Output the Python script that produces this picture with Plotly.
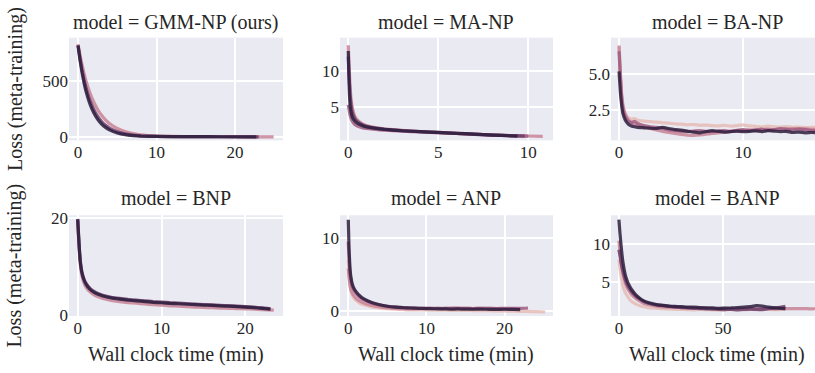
import plotly.graph_objects as go

# ---------------- data ----------------
# GMM-NP (ours)
GMM_T_A = [0, 0.25, 0.5, 0.75, 1, 1.5, 2, 2.5, 3, 3.5, 4, 5, 6, 7, 8, 10, 12, 15, 18, 21, 24.9]
GMM_L_A = [830, 735, 650, 575, 508, 400, 315, 248, 196, 155, 123, 78, 50, 33, 22, 11, 7, 5, 4.5, 4, 4]
GMM_T_B = [0, 0.25, 0.5, 0.75, 1, 1.5, 2, 2.5, 3, 3.5, 4, 5, 6, 7, 8, 10, 12, 15, 18, 23]
GMM_L_B = [822, 705, 605, 520, 448, 332, 248, 186, 140, 106, 82, 49, 30, 19, 13, 8, 6, 5, 4.5, 4]
GMM_T_C = [0, 0.25, 0.5, 0.75, 1, 1.5, 2, 2.5, 3, 3.5, 4, 5, 6, 7, 8, 10, 12, 15, 18, 22.7]
GMM_L_C = [818, 690, 580, 490, 415, 300, 218, 160, 118, 88, 66, 38, 23, 15, 10, 7, 5.5, 5, 4.5, 4]

# MA-NP
MA_T_A = [0, 0.05, 0.1, 0.15, 0.2, 0.3, 0.4, 0.6, 0.8, 1.0, 1.5, 2, 2.5, 3, 4, 5, 6, 7, 8, 9, 10, 10.8]
MA_L_A = [13.6, 10.5, 7.8, 6.2, 5.2, 4.1, 3.5, 2.95, 2.6, 2.4, 2.1, 1.92, 1.8, 1.7, 1.54, 1.42, 1.3, 1.18, 1.07, 0.98, 0.92, 0.88]
MA_T_B = [0, 0.05, 0.1, 0.2, 0.3, 0.4, 0.6, 0.8, 1.0, 1.5, 2, 3, 4, 5, 6, 7, 8, 9, 10]
MA_L_B = [5.3, 4.5, 3.8, 3.1, 2.7, 2.45, 2.2, 2.05, 1.97, 1.84, 1.74, 1.6, 1.48, 1.38, 1.27, 1.15, 1.05, 0.97, 0.9]
MA_T_C = [0, 0.05, 0.1, 0.15, 0.2, 0.3, 0.4, 0.6, 0.8, 1.0, 1.5, 2, 2.5, 3, 4, 5, 6, 7, 8, 9, 9.8]
MA_L_C = [12.0, 9.0, 6.8, 5.4, 4.5, 3.7, 3.2, 2.75, 2.45, 2.28, 2.02, 1.86, 1.75, 1.66, 1.52, 1.4, 1.28, 1.16, 1.05, 0.96, 0.9]
MA_T_D = [0, 0.03, 0.06, 0.1, 0.15, 0.2, 0.3, 0.5, 0.8, 1.0, 1.5, 2, 2.5, 3, 4, 5, 6, 7, 8, 9, 9.4]
MA_L_D = [12.8, 9.5, 7.0, 5.2, 4.3, 3.7, 3.2, 2.7, 2.35, 2.2, 2.0, 1.85, 1.75, 1.65, 1.52, 1.42, 1.3, 1.18, 1.05, 0.95, 0.9]

# BA-NP
BA_T = [0, 0.1, 0.2, 0.3, 0.5, 0.75, 1, 1.25, 1.5, 2, 2.5, 3, 3.5, 4, 4.5, 5, 5.5, 6, 6.5, 7,
        7.5, 8, 8.5, 9, 9.5, 10, 10.5, 11, 11.5, 12, 12.5, 13, 13.5, 14, 14.5, 15, 15.5, 16.5]
BA_L_A = [6.9, 5.0, 3.6, 2.8, 2.2, 1.95, 1.85, 1.9, 1.78, 1.72, 1.68, 1.65, 1.6, 1.58, 1.52, 1.5, 1.46, 1.48, 1.42, 1.44,
          1.4, 1.38, 1.42, 1.36, 1.4, 1.45, 1.38, 1.35, 1.3, 1.36, 1.32, 1.3, 1.34, 1.28, 1.3, 1.26, 1.28, 1.25]
BA_L_B = [7.0, 5.2, 3.7, 2.9, 2.2, 1.8, 1.6, 1.5, 1.42, 1.3, 1.2, 1.1, 1.0, 0.92, 0.85, 0.78, 0.74, 0.72, 0.75, 0.8,
          0.86, 0.9, 0.95, 1.0, 1.02, 1.05, 1.1, 1.08, 1.12, 1.15, 1.1, 1.18, 1.15, 1.2, 1.16, 1.18, 1.14, 1.15]
BA_L_C = [6.6, 4.8, 3.4, 2.6, 2.0, 1.7, 1.62, 1.7, 1.55, 1.4, 1.32, 1.28, 1.22, 1.1, 1.05, 1.0, 0.98, 1.02, 1.05, 1.0,
          0.98, 1.02, 1.05, 1.0, 1.08, 1.12, 1.05, 1.1, 1.15, 1.08, 1.12, 1.2, 1.15, 1.1, 1.18, 1.12, 1.06, 1.05]
BA_L_D = [5.2, 3.8, 2.9, 2.3, 1.8, 1.5, 1.38, 1.32, 1.28, 1.25, 1.22, 1.2, 1.28, 1.2, 1.12, 1.08, 1.02, 0.95, 0.9, 0.98,
          1.05, 1.0, 0.95, 0.98, 1.02, 0.98, 1.0, 1.04, 0.98, 1.05, 1.02, 0.98, 1.0, 0.92, 0.95, 0.9, 0.92, 0.9]

# BNP
BNP_T = [0, 0.1, 0.2, 0.3, 0.5, 0.75, 1, 1.5, 2, 2.5, 3, 4, 5, 6, 7, 8, 9, 10, 11, 12, 13, 14, 15,
         16, 17, 18, 19, 20, 21, 22, 23]
BNP_T_P = [0, 0.1, 0.2, 0.3, 0.5, 0.75, 1, 1.5, 2, 2.5, 3, 4, 5, 6, 7, 8, 9, 10, 11, 12, 13, 14, 15,
           16, 17, 18, 19, 20, 21, 22, 23.4]
BNP_L_A = [19.5, 16.0, 13.0, 10.6, 8.2, 6.7, 5.8, 4.8, 4.2, 3.8, 3.5, 3.1, 2.85, 2.65, 2.5, 2.35, 2.2, 2.1, 1.98,
           1.9, 1.8, 1.72, 1.65, 1.58, 1.5, 1.45, 1.4, 1.35, 1.3, 1.2, 1.1]
BNP_L_B = [19.9, 16.7, 13.7, 11.4, 9.0, 7.5, 6.6, 5.5, 4.9, 4.45, 4.15, 3.75, 3.5, 3.3, 3.15, 3.0, 2.85, 2.75,
           2.62, 2.55, 2.45, 2.35, 2.25, 2.18, 2.08, 2.0, 1.92, 1.82, 1.7, 1.55, 1.35]
BNP_L_C = [19.8, 16.5, 13.5, 11.2, 8.8, 7.3, 6.4, 5.3, 4.7, 4.3, 4.0, 3.6, 3.35, 3.15, 3.0, 2.85, 2.7, 2.6, 2.48,
           2.4, 2.3, 2.2, 2.12, 2.05, 1.95, 1.88, 1.8, 1.7, 1.6, 1.45, 1.3]

# ANP
ANP_T = [0, 0.1, 0.2, 0.3, 0.5, 0.75, 1, 1.5, 2, 3, 4, 5, 6, 7, 8, 9, 10, 11, 12, 13, 14, 15, 16,
         17, 18, 19, 20, 21, 22]
ANP_T_L = ANP_T + [23, 24, 25.2]
ANP_T_P = ANP_T + [23]
ANP_L_A = [7.0, 5.0, 3.8, 3.0, 2.2, 1.7, 1.4, 1.0, 0.8, 0.5, 0.35, 0.25, 0.2, 0.15, 0.1, 0.1, 0.08, 0.05, 0.05,
           0.03, 0.03, 0.02, 0.0, 0.0, -0.02, -0.05, -0.05, -0.08, -0.1, -0.12, -0.15, -0.2]
ANP_L_B = [5.8, 4.5, 3.6, 3.0, 2.4, 2.0, 1.7, 1.3, 1.05, 0.7, 0.5, 0.38, 0.3, 0.26, 0.22, 0.25, 0.3, 0.28, 0.32,
           0.3, 0.35, 0.3, 0.28, 0.32, 0.3, 0.25, 0.22, 0.2, 0.18]
ANP_L_C = [9.5, 7.0, 5.4, 4.4, 3.4, 2.8, 2.4, 1.85, 1.5, 1.05, 0.78, 0.6, 0.5, 0.42, 0.36, 0.32, 0.3, 0.3, 0.28,
           0.3, 0.32, 0.3, 0.28, 0.3, 0.3, 0.28, 0.3, 0.32, 0.3, 0.35]
ANP_L_D = [12.5, 8.5, 6.2, 4.9, 3.7, 3.0, 2.6, 2.0, 1.6, 1.1, 0.8, 0.6, 0.48, 0.4, 0.35, 0.3, 0.28, 0.25, 0.24,
           0.2, 0.22, 0.2, 0.18, 0.2, 0.17, 0.16, 0.18, 0.15, 0.14]

# BANP
BANP_T = [0, 0.5, 1, 1.5, 2, 3, 4, 5, 6, 8, 10, 12, 15, 18, 21, 24, 27, 30, 33, 36, 39, 42, 45, 48,
          51, 54, 57, 60, 63, 66, 69, 72, 75, 78, 80]
BANP_T_P = BANP_T + [84, 88, 92, 96]
BANP_L_A = [8.0, 6.8, 5.8, 5.0, 4.4, 3.6, 3.1, 2.7, 2.4, 2.05, 1.8, 1.65, 1.5, 1.45, 1.4, 1.35, 1.32, 1.3, 1.28,
            1.25, 1.3, 1.28, 1.25, 1.22, 1.25, 1.3, 1.28, 1.25, 1.3, 1.28, 1.32, 1.3, 1.28, 1.3, 1.32]
BANP_L_B = [10.5, 9.0, 7.8, 6.8, 6.0, 4.9, 4.2, 3.7, 3.3, 2.8, 2.4, 2.1, 1.9, 1.75, 1.65, 1.6, 1.62, 1.55, 1.5,
            1.48, 1.52, 1.45, 1.4, 1.42, 1.45, 1.38, 1.4, 1.42, 1.4, 1.38, 1.42, 1.4, 1.38, 1.4, 1.42,
            1.4, 1.42, 1.38, 1.4]
BANP_L_C = [9.3, 8.5, 7.6, 6.9, 6.3, 5.3, 4.6, 4.1, 3.7, 3.1, 2.7, 2.35, 2.05, 1.9, 1.8, 1.72, 1.6, 1.55, 1.5,
            1.45, 1.4, 1.38, 1.35, 1.3, 1.28, 1.3, 1.25, 1.3, 1.35, 1.3, 1.28, 1.4, 1.5, 1.6, 1.7]
BANP_L_D = [13.3, 11.5, 10.0, 8.6, 7.5, 6.0, 5.1, 4.5, 4.0, 3.3, 2.8, 2.45, 2.15, 1.95, 1.85, 1.75, 1.7, 1.68,
            1.6, 1.62, 1.55, 1.52, 1.5, 1.45, 1.48, 1.5, 1.55, 1.6, 1.68, 1.8, 1.75, 1.6, 1.5, 1.45, 1.42]

TITLES = ["model = GMM-NP (ours)", "model = MA-NP", "model = BA-NP",
          "model = BNP", "model = ANP", "model = BANP"]
X_TICKS = [[0, 10, 20], [0, 5, 10], [0, 10], [0, 10, 20], [0, 10, 20], [0, 50]]
Y_TICKS = [[0, 500], [5, 10], [2.5, 5.0], [0, 20], [0, 10], [5, 10]]
Y_TICK_TEXT = [["0", "500"], ["5", "10"], ["2.5", "5.0"], ["0", "20"], ["0", "10"], ["5", "10"]]
X_LABEL = "Wall clock time (min)"
Y_LABEL = "Loss (meta-training)"

# ---------------- style ----------------
C_LIGHT = "#e6bdb6"
C_PINK = "#c98497"
C_MAUVE = "#a25d82"
C_PURPLE = "#6e406c"
C_DARK = "#2d1e3e"

panels = [
    [(GMM_T_A, GMM_L_A, C_PINK), (GMM_T_B, GMM_L_B, C_PURPLE), (GMM_T_C, GMM_L_C, C_DARK)],
    [(MA_T_A, MA_L_A, C_PINK), (MA_T_B, MA_L_B, C_MAUVE), (MA_T_C, MA_L_C, C_PURPLE), (MA_T_D, MA_L_D, C_DARK)],
    [(BA_T, BA_L_A, C_LIGHT), (BA_T, BA_L_B, C_PINK), (BA_T, BA_L_C, C_MAUVE), (BA_T, BA_L_D, C_DARK)],
    [(BNP_T_P, BNP_L_A, C_PINK), (BNP_T, BNP_L_B, C_PURPLE), (BNP_T, BNP_L_C, C_DARK)],
    [(ANP_T_L, ANP_L_A, C_LIGHT), (ANP_T, ANP_L_B, C_PINK), (ANP_T_P, ANP_L_C, C_MAUVE), (ANP_T, ANP_L_D, C_DARK)],
    [(BANP_T, BANP_L_A, C_LIGHT), (BANP_T_P, BANP_L_B, C_PINK), (BANP_T, BANP_L_C, C_PURPLE), (BANP_T, BANP_L_D, C_DARK)],
]

X_RANGES = [[-1.15, 26.1], [-0.46, 11.37], [-0.65, 15.8], [-1.04, 24.5], [-1.06, 26.2], [-3.8, 94.2]]
Y_RANGES = [[-28, 889], [0.31, 14.65], [0.37, 7.55], [-0.13, 20.66], [-0.75, 13.13], [0.42, 13.9]]

W, H = 815, 373
COLS_PX = [(69, 283), (340, 553), (611, 815)]
ROWS_PX = [(33, 140), (218, 323)]
TITLE_X_PX = [176, 446.5, 717]
TITLE_Y_PX = [17, 200]

FONT = "Liberation Serif, serif"
TXT = "#262626"

fig = go.Figure()
layout = dict(
    width=W, height=H, margin=dict(l=0, r=0, t=0, b=0),
    paper_bgcolor="white", plot_bgcolor="#EAEAF2", showlegend=False,
    font=dict(family=FONT, color=TXT, size=17),
)
annotations = []
for i in range(6):
    r, c = divmod(i, 3)
    ax = "" if i == 0 else str(i + 1)
    for (t, l, col) in panels[i]:
        fig.add_trace(go.Scatter(x=t, y=l, mode="lines", xaxis="x" + ax, yaxis="y" + ax,
                                 line=dict(color=col, width=3.2, shape="spline", smoothing=0.4),
                                 opacity=0.85, hoverinfo="skip"))
    x0, x1 = COLS_PX[c]
    y0, y1 = ROWS_PX[r]
    layout["xaxis" + ax] = dict(domain=[x0 / W, x1 / W], range=X_RANGES[i], anchor="y" + ax,
                                tickvals=X_TICKS[i], showgrid=True, gridcolor="white", gridwidth=1.6,
                                zeroline=False, showline=False, ticks="",
                                tickfont=dict(size=17, family=FONT, color=TXT))
    layout["yaxis" + ax] = dict(domain=[1 - y1 / H, 1 - y0 / H], range=Y_RANGES[i], anchor="x" + ax,
                                tickvals=Y_TICKS[i], ticktext=Y_TICK_TEXT[i], showgrid=True,
                                gridcolor="white", gridwidth=1.6, zeroline=False, showline=False,
                                ticks="", tickfont=dict(size=17, family=FONT, color=TXT))
    annotations.append(dict(text=TITLES[i], x=TITLE_X_PX[c] / W, y=1 - TITLE_Y_PX[r] / H,
                            xref="paper", yref="paper", showarrow=False, xanchor="center",
                            yanchor="middle", font=dict(size=20, family=FONT, color=TXT)))
    if r == 1:
        annotations.append(dict(text=X_LABEL, x=((x0 + x1) / 2) / W if c < 2 else 717 / W,
                                y=1 - 362.7 / H, xref="paper", yref="paper", showarrow=False,
                                xanchor="center", yanchor="middle",
                                font=dict(size=20, family=FONT, color=TXT)))
    if c == 0:
        annotations.append(dict(text=Y_LABEL, x=15 / W, y=1 - ((y0 + y1) / 2) / H, xref="paper",
                                yref="paper", showarrow=False, textangle=-90, xanchor="center",
                                yanchor="middle", font=dict(size=20, family=FONT, color=TXT)))
layout["annotations"] = annotations
fig.update_layout(**layout)
fig.write_html("out.html", config={"displayModeBar": False},
               post_script="document.body.style.margin='0';document.body.style.overflow='hidden';")
